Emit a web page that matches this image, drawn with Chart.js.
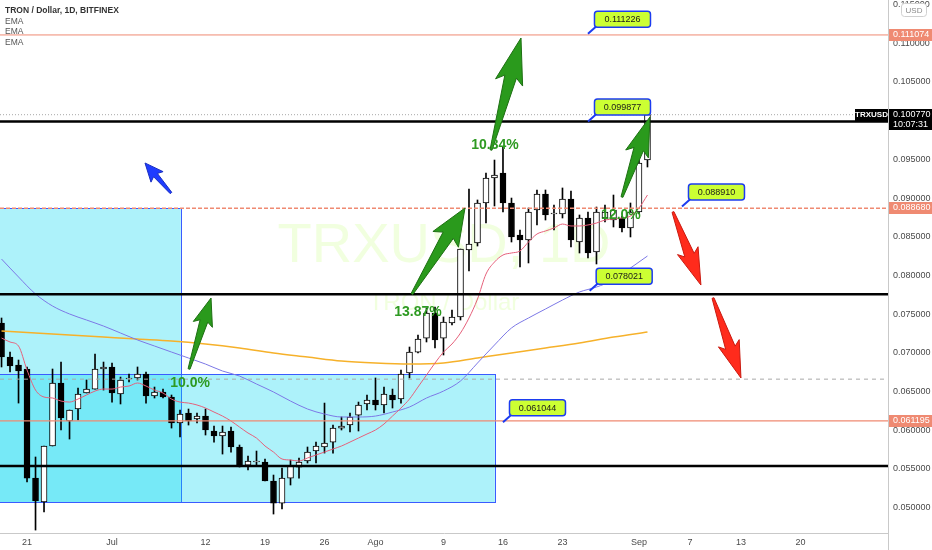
<!DOCTYPE html>
<html lang="es">
<head>
  <meta charset="UTF-8">
  <title>TRON / Dollar, 1D</title>
  <script src="https://cdn.jsdelivr.net/npm/chart.js"></script>
  <style>
    html, body { margin: 0; padding: 0; background: #fff; }
    #wrap { width: 932px; height: 550px; }
  </style>
</head>
<body>
  <div id="wrap"><canvas id="grafica" width="932" height="550"></canvas></div>

  <script>
    // day 0 = 21 Jun, first visible candle is day -3
    var firstDay = -3;

    var open = [0.07385, 0.06946, 0.06842, 0.06791, 0.05382, 0.05072, 0.05796, 0.06610, 0.06119, 0.06274,
      0.06481, 0.06532, 0.06791, 0.06817, 0.06468, 0.06662, 0.06675, 0.06726, 0.06442, 0.06494,
      0.06429, 0.06093, 0.06222, 0.06145, 0.06183, 0.05990, 0.05925, 0.05990, 0.05783, 0.05550,
      0.05589, 0.05589, 0.05344, 0.05059, 0.05382, 0.05524, 0.05602, 0.05731, 0.05783, 0.05847,
      0.06028, 0.06067, 0.06196, 0.06339, 0.06390, 0.06326, 0.06455, 0.06403, 0.06739, 0.07010,
      0.07191, 0.07514, 0.07191, 0.07385, 0.07463, 0.08329, 0.08419, 0.08936, 0.09259, 0.09323,
      0.08936, 0.08522, 0.08458, 0.08845, 0.09052, 0.08794, 0.08794, 0.08988, 0.08432, 0.08742,
      0.08303, 0.08742, 0.08716, 0.08742, 0.08613, 0.08820, 0.09491];
    var high = [0.07450, 0.07010, 0.06907, 0.06817, 0.05654, 0.05796, 0.06791, 0.06881, 0.06261, 0.06545,
      0.06649, 0.06985, 0.06881, 0.06868, 0.06687, 0.06726, 0.06817, 0.06752, 0.06558, 0.06532,
      0.06455, 0.06261, 0.06274, 0.06222, 0.06274, 0.06054, 0.06054, 0.06041, 0.05809, 0.05667,
      0.05731, 0.05628, 0.05421, 0.05512, 0.05615, 0.05641, 0.05783, 0.05847, 0.06351, 0.06067,
      0.06171, 0.06222, 0.06364, 0.06455, 0.06675, 0.06558, 0.06532, 0.06778, 0.07075, 0.07230,
      0.07579, 0.07592, 0.07463, 0.07553, 0.08341, 0.09117, 0.08975, 0.09323, 0.09491, 0.09659,
      0.09000, 0.08587, 0.08871, 0.09104, 0.09104, 0.08910, 0.09130, 0.09091, 0.08781, 0.08820,
      0.08884, 0.08910, 0.09039, 0.08768, 0.08936, 0.09491, 0.10163];
    var low = [0.06817, 0.06752, 0.06351, 0.05331, 0.04710, 0.04943, 0.05796, 0.06003, 0.05886, 0.06132,
      0.06481, 0.06532, 0.06519, 0.06364, 0.06339, 0.06623, 0.06649, 0.06351, 0.06416, 0.06416,
      0.06028, 0.05912, 0.06067, 0.06093, 0.05938, 0.05847, 0.05692, 0.05718, 0.05524, 0.05486,
      0.05550, 0.05344, 0.04917, 0.04982, 0.05292, 0.05382, 0.05576, 0.05576, 0.05705, 0.05705,
      0.06003, 0.05977, 0.05990, 0.06261, 0.06261, 0.06222, 0.06287, 0.06351, 0.06675, 0.06998,
      0.07140, 0.07062, 0.06972, 0.07359, 0.07424, 0.08057, 0.08380, 0.08677, 0.08897, 0.08820,
      0.08432, 0.08109, 0.08161, 0.08652, 0.08716, 0.08587, 0.08742, 0.08367, 0.08290, 0.08225,
      0.08148, 0.08690, 0.08626, 0.08561, 0.08497, 0.08794, 0.09401];
    var close = [0.06946, 0.06830, 0.06765, 0.05382, 0.05085, 0.05796, 0.06610, 0.06158, 0.06261, 0.06468,
      0.06532, 0.06791, 0.06817, 0.06481, 0.06649, 0.06675, 0.06726, 0.06442, 0.06494, 0.06429,
      0.06093, 0.06209, 0.06119, 0.06183, 0.06003, 0.05925, 0.05977, 0.05783, 0.05550, 0.05602,
      0.05602, 0.05344, 0.05059, 0.05382, 0.05537, 0.05589, 0.05718, 0.05796, 0.05835, 0.06028,
      0.06054, 0.06171, 0.06326, 0.06390, 0.06326, 0.06468, 0.06390, 0.06726, 0.07010, 0.07178,
      0.07514, 0.07166, 0.07398, 0.07463, 0.08341, 0.08406, 0.08936, 0.09259, 0.09298, 0.08936,
      0.08497, 0.08458, 0.08820, 0.09052, 0.08781, 0.08807, 0.08988, 0.08458, 0.08742, 0.08290,
      0.08820, 0.08820, 0.08845, 0.08613, 0.08820, 0.09453, 0.10077];

    // short EMA, one value per candle
    var emaFast = [0.07191, 0.07140, 0.07088, 0.06778, 0.06519, 0.06429, 0.06416, 0.06377, 0.06364, 0.06403,
      0.06455, 0.06506, 0.06532, 0.06532, 0.06558, 0.06571, 0.06610, 0.06571, 0.06519, 0.06481,
      0.06403, 0.06364, 0.06351, 0.06326, 0.06287, 0.06235, 0.06183, 0.06119, 0.06041, 0.05964,
      0.05899, 0.05796, 0.05718, 0.05628, 0.05615, 0.05602, 0.05641, 0.05680, 0.05718, 0.05757,
      0.05796, 0.05847, 0.05899, 0.05951, 0.06003, 0.06080, 0.06183, 0.06287, 0.06403, 0.06558,
      0.06713, 0.06868, 0.07010, 0.07114, 0.07256, 0.07450, 0.07695, 0.08018, 0.08173, 0.08264,
      0.08290, 0.08316, 0.08432, 0.08535, 0.08574, 0.08613, 0.08664, 0.08639, 0.08639, 0.08652,
      0.08677, 0.08716, 0.08729, 0.08742, 0.08768, 0.08871, 0.09039];

    // medium EMA, read every second candle
    var emaMidDays = [-3, -1, 1, 3, 5, 7, 9, 11, 13, 15, 17, 19, 21, 23, 25, 27, 29, 31, 33, 35,
      37, 39, 41, 43, 45, 47, 49, 51, 53, 55, 57, 59, 61, 63, 65, 67, 69, 71, 73];
    var emaMid = [0.08212, 0.07980, 0.07760, 0.07605, 0.07502, 0.07424, 0.07346, 0.07256, 0.07166, 0.07088,
      0.07010, 0.06933, 0.06855, 0.06765, 0.06700, 0.06597, 0.06494, 0.06377, 0.06274, 0.06209,
      0.06171, 0.06171, 0.06183, 0.06235, 0.06300, 0.06416, 0.06506, 0.06636, 0.06868, 0.07101,
      0.07321, 0.07450, 0.07566, 0.07682, 0.07786, 0.07850, 0.07941, 0.08096, 0.08251];

    // long EMA
    var emaSlowDays = [-3, 1, 5, 9, 13, 17, 21, 25, 29, 33, 37, 41, 45, 49, 53, 57, 61, 65, 69, 73];
    var emaSlow = [0.07282, 0.07256, 0.07230, 0.07204, 0.07178, 0.07153, 0.07114, 0.07062, 0.06998, 0.06946,
      0.06894, 0.06868, 0.06855, 0.06868, 0.06933, 0.06998, 0.07062, 0.07127, 0.07204, 0.07269];

    var tickDays = [0, 10, 21, 28, 35, 41, 49, 56, 63, 72, 78, 84, 91];
    var tickLabels = ['21', 'Jul', '12', '19', '26', 'Ago', '9', '16', '23', 'Sep', '7', '13', '20'];

    var lastPrice = 0.100770;

    // ---- drawings on top of the chart ----
    var boxes = [
      { x0: -4, x1: 18.1, top: 0.08868, bottom: 0.05072 },
      { x0: -4, x1: 55.05, top: 0.06726, bottom: 0.05072 }
    ];
    var levels = [
      { v: 0.111074, color: '#ef8a72', w: 1 },
      { v: 0.100770, color: '#a8a8a8', w: 1, dash: [1, 2] },
      { v: 0.099877, color: '#000000', w: 2.5 },
      { v: 0.088680, color: '#ef8a72', w: 1.5, dash: [4, 2] },
      { v: 0.077570, color: '#000000', w: 2.5 },
      { v: 0.066600, color: '#a8a8a8', w: 1, dash: [4, 4] },
      { v: 0.061195, color: '#ef8a72', w: 1.2 },
      { v: 0.055380, color: '#000000', w: 2.5 }
    ];
    var arrows = [
      { from: [19.06, 0.06791], to: [21.65, 0.07708], hl: 24, hw: 10, sw: 4, fill: '#2a9a1c', line: '#1d6f12' },
      { from: [45.29, 0.07760], to: [51.53, 0.08871], hl: 32, hw: 15, sw: 6, fill: '#2a9a1c', line: '#1d6f12' },
      { from: [54.59, 0.09621], to: [58.12, 0.11068], hl: 40, hw: 14, sw: 6, fill: '#2a9a1c', line: '#1d6f12' },
      { from: [70.0, 0.09013], to: [73.29, 0.10047], hl: 34, hw: 12, sw: 5, fill: '#2a9a1c', line: '#1d6f12' },
      { from: [76.0, 0.08820], to: [79.29, 0.07876], hl: 32, hw: 11, sw: 5, fill: '#ff2b1c', line: '#c91a10' },
      { from: [80.71, 0.07708], to: [84.0, 0.06675], hl: 32, hw: 11, sw: 5, fill: '#ff2b1c', line: '#c91a10' },
      { from: [16.94, 0.09065], to: [13.88, 0.09453], hl: 16, hw: 8, sw: 2.5, fill: '#1f3cff', line: '#1a2fc0' }
    ];
    var notes = [
      { t: '10.34%', x: 55.06, v: 0.09685 },
      { t: '13.87%', x: 46.0, v: 0.07527 },
      { t: '10.0%', x: 19.18, v: 0.06610 },
      { t: '12.0%', x: 69.88, v: 0.08781 }
    ];
    var callouts = [
      { t: '0.111226', x: 66, v: 0.111226 },
      { t: '0.099877', x: 66, v: 0.099877 },
      { t: '0.088910', x: 77.06, v: 0.088910 },
      { t: '0.078021', x: 66.2, v: 0.078021 },
      { t: '0.061044', x: 56, v: 0.061044 }
    ];

    function drawArrow(ctx, x1, y1, x2, y2, a) {
      var dx = x2 - x1, dy = y2 - y1, L = Math.hypot(dx, dy);
      var ux = dx / L, uy = dy / L, nx = -uy, ny = ux;
      var bx = x2 - ux * a.hl, by = y2 - uy * a.hl;
      var wx = bx - ux * a.hl * 0.15, wy = by - uy * a.hl * 0.15;
      ctx.beginPath();
      ctx.moveTo(x1 + nx, y1 + ny);
      ctx.lineTo(bx + nx * a.sw, by + ny * a.sw);
      ctx.lineTo(wx + nx * a.hw, wy + ny * a.hw);
      ctx.lineTo(x2, y2);
      ctx.lineTo(wx - nx * a.hw, wy - ny * a.hw);
      ctx.lineTo(bx - nx * a.sw, by - ny * a.sw);
      ctx.lineTo(x1 - nx, y1 - ny);
      ctx.closePath();
      ctx.fillStyle = a.fill;
      ctx.fill();
      ctx.strokeStyle = a.line;
      ctx.lineWidth = 1;
      ctx.stroke();
    }

    function roundRect(ctx, x, y, w, h, r) {
      ctx.beginPath();
      ctx.moveTo(x + r, y);
      ctx.arcTo(x + w, y, x + w, y + h, r);
      ctx.arcTo(x + w, y + h, x, y + h, r);
      ctx.arcTo(x, y + h, x, y, r);
      ctx.arcTo(x, y, x + w, y, r);
      ctx.closePath();
    }

    var drawings = {
      id: 'drawings',
      beforeDatasetsDraw: function(chart) {
        var ctx = chart.ctx, a = chart.chartArea, xs = chart.scales.x, ys = chart.scales.y;
        ctx.save();
        ctx.beginPath();
        ctx.rect(a.left, a.top, a.width, a.height);
        ctx.clip();

        // watermark
        var cx = (a.left + a.right) / 2;
        ctx.fillStyle = 'rgba(190,255,110,0.22)';
        ctx.textAlign = 'center';
        ctx.textBaseline = 'alphabetic';
        ctx.font = '56px "Liberation Sans"';
        ctx.fillText('TRXUSD, 1D', cx, 262);
        ctx.font = '24px "Liberation Sans"';
        ctx.fillText('TRON / Dollar', cx, 310);

        boxes.forEach(function(b) {
          var x0 = xs.getPixelForValue(b.x0), x1 = xs.getPixelForValue(b.x1);
          var y0 = ys.getPixelForValue(b.top), y1 = ys.getPixelForValue(b.bottom);
          ctx.fillStyle = 'rgba(0,215,240,0.32)';
          ctx.fillRect(x0, y0, x1 - x0, y1 - y0);
          ctx.strokeStyle = '#3b5bff';
          ctx.lineWidth = 1;
          ctx.strokeRect(Math.round(x0) + 0.5, Math.round(y0) + 0.5, Math.round(x1 - x0), Math.round(y1 - y0));
        });
        ctx.restore();
      },
      afterDatasetsDraw: function(chart) {
        var ctx = chart.ctx, a = chart.chartArea, xs = chart.scales.x, ys = chart.scales.y;
        ctx.save();
        ctx.beginPath();
        ctx.rect(a.left, a.top, a.width, a.height);
        ctx.clip();

        levels.forEach(function(l) {
          var y = ys.getPixelForValue(l.v);
          ctx.beginPath();
          ctx.setLineDash(l.dash || []);
          ctx.strokeStyle = l.color;
          ctx.lineWidth = l.w;
          ctx.moveTo(a.left, y);
          ctx.lineTo(a.right, y);
          ctx.stroke();
        });
        ctx.setLineDash([]);

        arrows.forEach(function(ar) {
          drawArrow(ctx, xs.getPixelForValue(ar.from[0]), ys.getPixelForValue(ar.from[1]),
            xs.getPixelForValue(ar.to[0]), ys.getPixelForValue(ar.to[1]), ar);
        });

        ctx.fillStyle = '#2e9a22';
        ctx.font = 'bold 14px "Liberation Sans"';
        ctx.textAlign = 'center';
        ctx.textBaseline = 'middle';
        notes.forEach(function(n) {
          ctx.fillText(n.t, xs.getPixelForValue(n.x), ys.getPixelForValue(n.v));
        });

        callouts.forEach(function(c) {
          var ax = xs.getPixelForValue(c.x), ay = ys.getPixelForValue(c.v);
          ctx.strokeStyle = '#1c3cf0';
          ctx.lineWidth = 2;
          ctx.beginPath();
          ctx.moveTo(ax, ay);
          ctx.lineTo(ax + 9, ay - 8);
          ctx.stroke();
          roundRect(ctx, ax + 6.5, ay - 22.5, 56, 16, 3);
          ctx.fillStyle = '#ccff33';
          ctx.fill();
          ctx.lineWidth = 1.5;
          ctx.stroke();
          ctx.fillStyle = '#1a1a1a';
          ctx.font = '9px "Liberation Sans"';
          ctx.textAlign = 'center';
          ctx.fillText(c.t, ax + 34.5, ay - 14);
        });
        ctx.restore();
      },
      afterDraw: function(chart) {
        var ctx = chart.ctx, a = chart.chartArea, ys = chart.scales.y;
        ctx.save();
        ctx.font = '9px "Liberation Sans"';
        ctx.textBaseline = 'middle';
        ctx.textAlign = 'left';

        // axis tags
        [0.111074, 0.088680, 0.061195].forEach(function(v) {
          var y = Math.round(ys.getPixelForValue(v));
          ctx.fillStyle = '#ef8a72';
          ctx.fillRect(a.right + 1, y - 6, 932 - a.right, 12);
          ctx.fillStyle = '#ffffff';
          ctx.fillText(v.toFixed(6), a.right + 5, y);
        });
        var yp = Math.round(ys.getPixelForValue(lastPrice));
        ctx.fillStyle = '#000000';
        ctx.fillRect(a.right + 1, yp - 6, 932 - a.right, 21);
        ctx.fillRect(a.right - 33, yp - 6, 33, 12);
        ctx.fillStyle = '#ffffff';
        ctx.fillText(lastPrice.toFixed(6), a.right + 5, yp);
        ctx.fillText('10:07:31', a.right + 5, yp + 9.5);
        ctx.font = 'bold 8px "Liberation Sans"';
        ctx.textAlign = 'center';
        ctx.fillText('TRXUSD', a.right - 16.5, yp);

        // currency box over the top tick
        roundRect(ctx, 901.5, 3.5, 25, 13, 3);
        ctx.fillStyle = '#ffffff';
        ctx.fill();
        ctx.strokeStyle = '#d0d0d0';
        ctx.lineWidth = 1;
        ctx.stroke();
        ctx.fillStyle = '#8a8a8a';
        ctx.font = '8px "Liberation Sans"';
        ctx.fillText('USD', 914, 10.5);

        // axis separator
        ctx.strokeStyle = '#c9c9c9';
        ctx.beginPath();
        ctx.moveTo(a.right + 0.5, 0);
        ctx.lineTo(a.right + 0.5, 550);
        ctx.stroke();

        // legend
        ctx.textAlign = 'left';
        ctx.fillStyle = '#333333';
        ctx.font = 'bold 8.5px "Liberation Sans"';
        ctx.fillText('TRON / Dollar, 1D, BITFINEX', 5, 11);
        ctx.fillStyle = '#555555';
        ctx.font = '8.5px "Liberation Sans"';
        ctx.fillText('EMA', 5, 21.5);
        ctx.fillText('EMA', 5, 32);
        ctx.fillText('EMA', 5, 42.5);
        ctx.restore();
      }
    };

    document.addEventListener('DOMContentLoaded', function() {
      var days = open.map(function(_, k) { return firstDay + k; });
      var wicks = days.map(function(d, k) { return { x: d, y: [low[k], high[k]] }; });
      var bodies = days.map(function(d, k) { return { x: d, y: [open[k], close[k]] }; });
      var bodyColors = close.map(function(c, k) { return c >= open[k] ? '#ffffff' : '#000000'; });

      var ctx = document.getElementById('grafica').getContext('2d');
      new Chart(ctx, {
        type: 'bar',
        data: {
          datasets: [
            {
              type: 'line',
              data: days.map(function(d, k) { return { x: d, y: emaFast[k] }; }),
              borderColor: '#e5607a', borderWidth: 1, pointRadius: 0,
              cubicInterpolationMode: 'monotone', order: 1
            },
            {
              type: 'line',
              data: emaMidDays.map(function(d, k) { return { x: d, y: emaMid[k] }; }),
              borderColor: '#7c78e6', borderWidth: 1, pointRadius: 0,
              cubicInterpolationMode: 'monotone', order: 1
            },
            {
              type: 'line',
              data: emaSlowDays.map(function(d, k) { return { x: d, y: emaSlow[k] }; }),
              borderColor: '#f6b12a', borderWidth: 1.5, pointRadius: 0,
              cubicInterpolationMode: 'monotone', order: 1
            },
            {
              data: wicks, backgroundColor: '#000000',
              barThickness: 1, grouped: false, order: 3
            },
            {
              data: bodies, backgroundColor: bodyColors, borderColor: '#000000',
              borderWidth: 1, borderSkipped: false, barThickness: 6, grouped: false, order: 2
            }
          ]
        },
        options: {
          responsive: false,
          animation: false,
          devicePixelRatio: 1,
          layout: { padding: 0 },
          plugins: { legend: { display: false }, tooltip: { enabled: false } },
          scales: {
            x: {
              type: 'linear', min: -3.18, max: 101.3, offset: false,
              grid: { display: false, drawTicks: false },
              border: { display: true, color: '#c9c9c9' },
              afterBuildTicks: function(s) { s.ticks = tickDays.map(function(v) { return { value: v }; }); },
              afterFit: function(s) { s.height = 17; s.paddingLeft = 0; s.paddingRight = 0; },
              ticks: {
                autoSkip: false, maxRotation: 0, padding: 4, color: '#4a4a4a',
                font: { family: 'Liberation Sans', size: 9 },
                callback: function(v) { var k = tickDays.indexOf(v); return k < 0 ? '' : tickLabels[k]; }
              }
            },
            y: {
              type: 'linear', position: 'right', min: 0.04672, max: 0.115589,
              grid: { display: false, drawTicks: false },
              border: { display: true, color: '#c9c9c9' },
              afterFit: function(s) { s.width = 44; s.paddingTop = 0; s.paddingBottom = 0; },
              ticks: {
                stepSize: 0.005, includeBounds: false, padding: 5, color: '#4a4a4a',
                font: { family: 'Liberation Sans', size: 9 },
                callback: function(v) { return v.toFixed(6); }
              }
            }
          }
        },
        plugins: [drawings]
      });
    });
  </script>
</body>
</html>
